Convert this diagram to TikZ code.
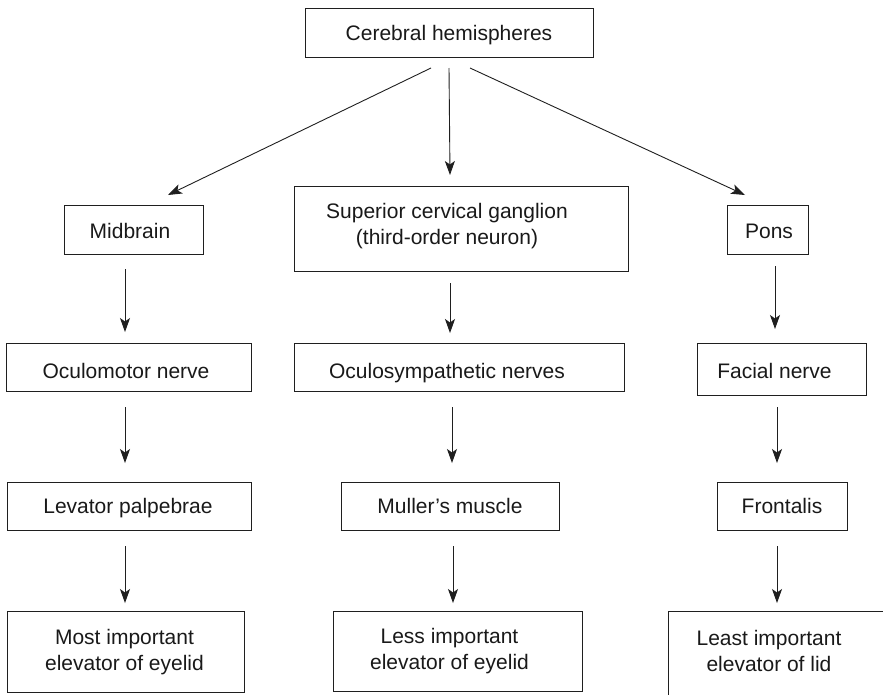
\documentclass[tikz,border=0pt]{standalone}
\usepackage{fontspec}
\setmainfont{Liberation Sans}
\usetikzlibrary{arrows.meta}
\begin{document}
\begin{tikzpicture}[x=1pt,y=-1pt,
  box/.style={draw=black!88, line width=1pt, inner sep=0pt, outer sep=0pt},
  txt/.style={font=\fontsize{21}{26}\selectfont, text=black!90, inner sep=0pt, align=center},
  arr/.style={draw=black!88, line width=0.9pt, -{Stealth[length=14pt,width=10pt,inset=3.5pt]}}]
\useasboundingbox (0,0) rectangle (883,694);
\clip (0,0) rectangle (883,694);
% boxes
\node[box, minimum width=288pt, minimum height=49pt] (cer) at (449,32.5) {};
\node[box, minimum width=139pt, minimum height=49pt] (mid) at (133.5,229.5) {};
\node[box, minimum width=334pt, minimum height=85pt] (scg) at (461,228.5) {};
\node[box, minimum width=81pt, minimum height=49pt] (pons) at (767.5,229.5) {};
\node[box, minimum width=245pt, minimum height=48pt] (ocm) at (128.5,367) {};
\node[box, minimum width=330pt, minimum height=48pt] (ocs) at (459,367) {};
\node[box, minimum width=169pt, minimum height=52pt] (fac) at (781.5,369) {};
\node[box, minimum width=244pt, minimum height=48pt] (lev) at (129,506) {};
\node[box, minimum width=218pt, minimum height=48pt] (mul) at (450,506) {};
\node[box, minimum width=130pt, minimum height=48pt] (fro) at (782,506) {};
\node[box, minimum width=237pt, minimum height=81pt] (most) at (125.5,651.5) {};
\node[box, minimum width=249pt, minimum height=80pt] (less) at (457.5,651) {};
\node[box, minimum width=232pt, minimum height=109pt] (least) at (784,665.5) {};
% texts
\node[txt, anchor=base] (cert) at (449,40) {Cerebral hemispheres};
\node[txt, anchor=base] (midt) at (130,238) {Midbrain};
\node[txt] (scgt) at (447,226) {Superior cervical ganglion\\(third-order neuron)};
\node[txt, anchor=base] (ponst) at (769,238) {Pons};
\node[txt, anchor=base] (ocmt) at (126,378) {Oculomotor nerve};
\node[txt, anchor=base] (ocst) at (447,378) {Oculosympathetic nerves};
\node[txt, anchor=base] (fact) at (774.5,378) {Facial nerve};
\node[txt, anchor=base] (levt) at (128,513) {Levator palpebrae};
\node[txt, anchor=base] (mult) at (450,513) {Muller’s muscle};
\node[txt, anchor=base] (frot) at (782,513) {Frontalis};
\node[txt] (mostt) at (124.5,652) {Most important\\elevator of eyelid};
\node[txt] (lesst) at (449.5,650.7) {Less important\\elevator of eyelid};
\node[txt] (leastt) at (769,650.7) {Least important\\elevator of lid};
% column coordinates
\coordinate (x1) at (125,0);
\coordinate (x2a) at (450,0);
\coordinate (x2b) at (452,0);
\coordinate (x2c) at (453,0);
\coordinate (x3a) at (775,0);
\coordinate (x3b) at (777,0);
% diagonal arrows
\draw[arr] ([xshift=-18pt,yshift=-11pt]cer.south) -- ([xshift=34.5pt,yshift=10pt]mid.north);
\draw[arr] ([yshift=-11pt]cer.south) -- ([xshift=-11pt,yshift=11pt]scg.north);
\draw[arr] ([xshift=21pt,yshift=-11pt]cer.south) -- ([xshift=-22.5pt,yshift=10pt]pons.north);
% column 1
\draw[arr, shorten <=15pt, shorten >=11pt] (mid.south -| x1) -- (ocm.north -| x1);
\draw[arr, shorten <=16pt, shorten >=19pt] (ocm.south -| x1) -- (lev.north -| x1);
\draw[arr, shorten <=16pt, shorten >=8pt] (lev.south -| x1) -- (most.north -| x1);
% column 2
\draw[arr, shorten <=12pt, shorten >=10pt] (scg.south -| x2a) -- (ocs.north -| x2a);
\draw[arr, shorten <=16pt, shorten >=19pt] (ocs.south -| x2b) -- (mul.north -| x2b);
\draw[arr, shorten <=16pt, shorten >=8pt] (mul.south -| x2c) -- (less.north -| x2c);
% column 3
\draw[arr, shorten <=12pt, shorten >=14pt] (pons.south -| x3a) -- (fac.north -| x3a);
\draw[arr, shorten <=12pt, shorten >=19pt] (fac.south -| x3b) -- (fro.north -| x3b);
\draw[arr, shorten <=16pt, shorten >=8pt] (fro.south -| x3b) -- (least.north -| x3b);
\end{tikzpicture}
\end{document}
